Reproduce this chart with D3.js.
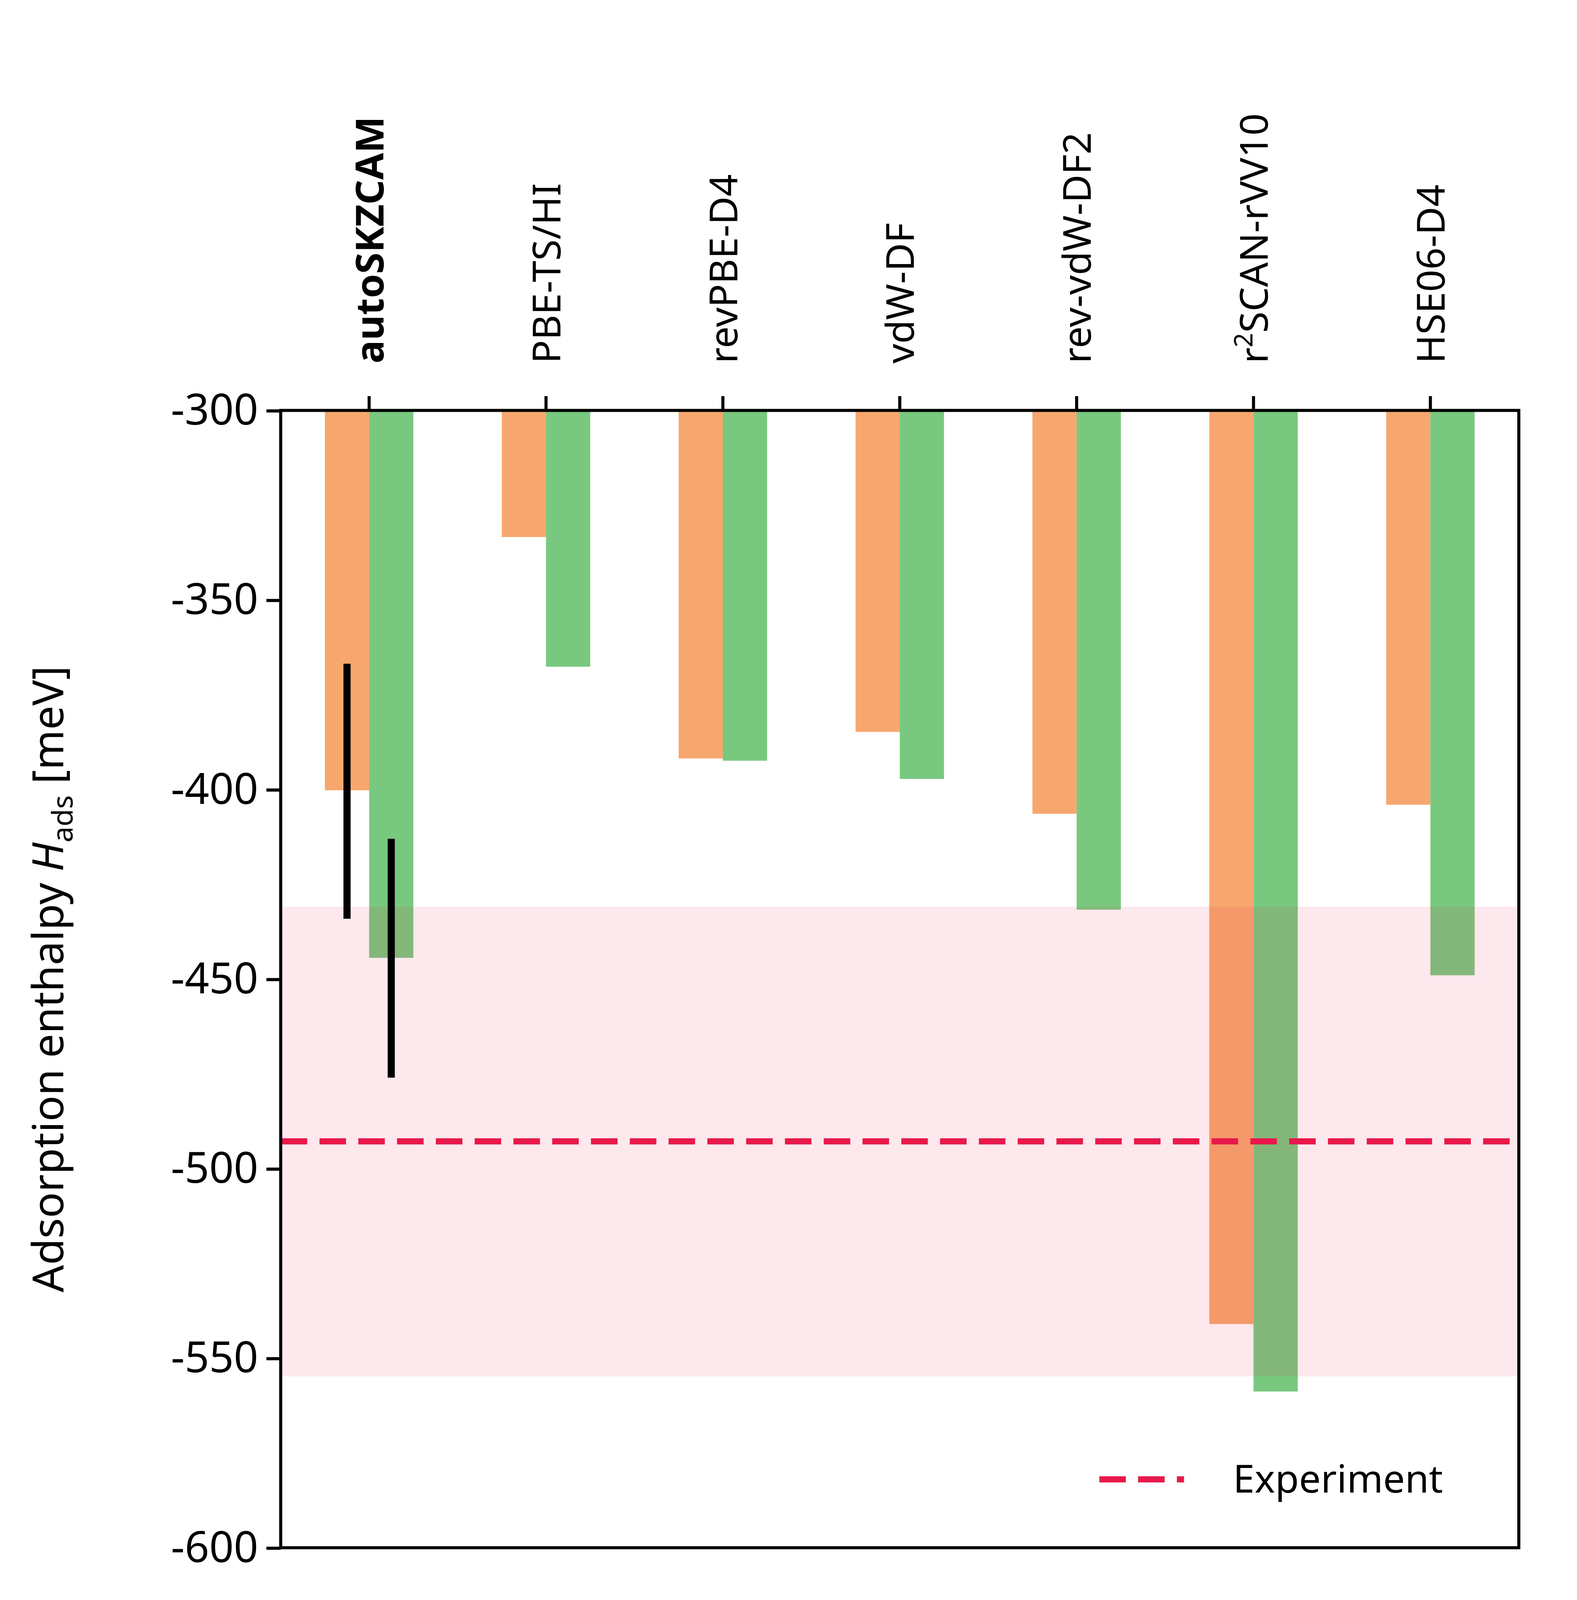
<!DOCTYPE html>
<html>
<head>
<meta charset="UTF-8">
<script src="https://d3js.org/d3.v7.min.js"></script>
<style>
  body { margin: 0; background: white; }
  text { font-family: "Noto Sans", "Open Sans", sans-serif; fill: black; }
</style>
</head>
<body>
<svg id="chart"></svg>
<script>
// data
const methods = ["autoSKZCAM", "PBE-TS/HI", "revPBE-D4", "vdW-DF", "rev-vdW-DF2", "r2SCAN-rVV10", "HSE06-D4"];
const orangeVals = [-400.2, -333.4, -391.8, -384.8, -406.4, -541.0, -404.0];
const greenVals = [-444.4, -367.6, -392.4, -397.2, -431.7, -558.8, -449.0];
const orangeErr = [[-366.8, -434.1]];
const greenErr = [[-413.0, -476.0]];
const experiment = -492.8;
const expBand = [-430.9, -554.8];
const yTicks = [-300, -350, -400, -450, -500, -550, -600];

const S = 4038 / 1545;
const margin = {left: 275, top: 402};
const W = 1213, H = 1114;

const svg = d3.select("#chart").attr("width", 4038).attr("height", 4200);
const root = svg.append("g").attr("transform", `scale(${S})`);
const g = root.append("g").attr("transform", `translate(${margin.left},${margin.top})`);

const x = d3.scaleBand().domain(methods).range([0, W]).padding(0);
const y = d3.scaleLinear().domain([-300, -600]).range([0, H]);
const bw = x.bandwidth() * 0.25;

// bars
g.selectAll(".orange").data(methods).join("rect")
  .attr("x", d => x(d) + x.bandwidth() / 2 - bw)
  .attr("y", 0).attr("width", bw)
  .attr("height", (d, i) => y(orangeVals[i]))
  .attr("fill", "#f7a76e");
g.selectAll(".green").data(methods).join("rect")
  .attr("x", d => x(d) + x.bandwidth() / 2)
  .attr("y", 0).attr("width", bw)
  .attr("height", (d, i) => y(greenVals[i]))
  .attr("fill", "#78c97f");

// experimental band on top
g.append("rect").attr("x", 0).attr("width", W)
  .attr("y", y(expBand[0])).attr("height", y(expBand[1]) - y(expBand[0]))
  .attr("fill", "#e8194a").attr("opacity", 0.1);

// error bars
const c0 = x(methods[0]) + x.bandwidth() / 2;
orangeErr.forEach(e => g.append("line").attr("x1", c0 - bw / 2).attr("x2", c0 - bw / 2)
  .attr("y1", y(e[0])).attr("y2", y(e[1])).attr("stroke", "black").attr("stroke-width", 7));
greenErr.forEach(e => g.append("line").attr("x1", c0 + bw / 2).attr("x2", c0 + bw / 2)
  .attr("y1", y(e[0])).attr("y2", y(e[1])).attr("stroke", "black").attr("stroke-width", 7));

// experiment line
g.append("line").attr("x1", 0).attr("x2", W).attr("y1", y(experiment)).attr("y2", y(experiment))
  .attr("stroke", "#e8194a").attr("stroke-width", 6).attr("stroke-dasharray", "26,12");

// frame
g.append("rect").attr("width", W).attr("height", H).attr("fill", "none")
  .attr("stroke", "black").attr("stroke-width", 3);

// y axis
const ya = g.append("g").call(d3.axisLeft(y).tickValues(yTicks).tickSize(14).tickPadding(8)
  .tickFormat(d => d3.format("d")(d).replace("−", "-")));
ya.select(".domain").remove();
ya.selectAll("line").attr("stroke-width", 3);
ya.selectAll("text").attr("font-size", 42);

// top axis with rotated labels
const xa = g.append("g").call(d3.axisTop(x).tickSize(14).tickFormat(""));
xa.select(".domain").remove();
xa.selectAll("line").attr("stroke-width", 3);
const lbl = g.selectAll(".mlab").data(methods).join("text")
  .attr("transform", d => `translate(${x(d) + x.bandwidth() / 2 + 14},-46) rotate(-90)`)
  .attr("font-size", 38)
  .attr("font-weight", (d, i) => i === 0 ? "bold" : "normal");
lbl.each(function(d) {
  const t = d3.select(this);
  if (d.startsWith("r2")) {
    t.append("tspan").text("r");
    t.append("tspan").text("2").attr("font-size", 25).attr("dy", -15);
    t.append("tspan").text("SCAN-rVV10").attr("dy", 15);
  } else t.text(d);
});

// y label
const yl = root.append("text").attr("transform", `translate(62,${margin.top + H / 2}) rotate(-90)`)
  .attr("text-anchor", "middle").attr("font-size", 42);
yl.append("tspan").text("Adsorption enthalpy ");
yl.append("tspan").text("H").attr("font-style", "italic");
yl.append("tspan").text("ads").attr("font-size", 28).attr("dy", 9);
yl.append("tspan").text(" [meV]").attr("dy", -9);

// legend
g.append("line").attr("x1", 802).attr("x2", 885).attr("y1", 1047).attr("y2", 1047)
  .attr("stroke", "#e8194a").attr("stroke-width", 6).attr("stroke-dasharray", "26,12");
g.append("text").attr("x", 933).attr("y", 1060).attr("font-size", 38).text("Experiment");
</script>
</body>
</html>
